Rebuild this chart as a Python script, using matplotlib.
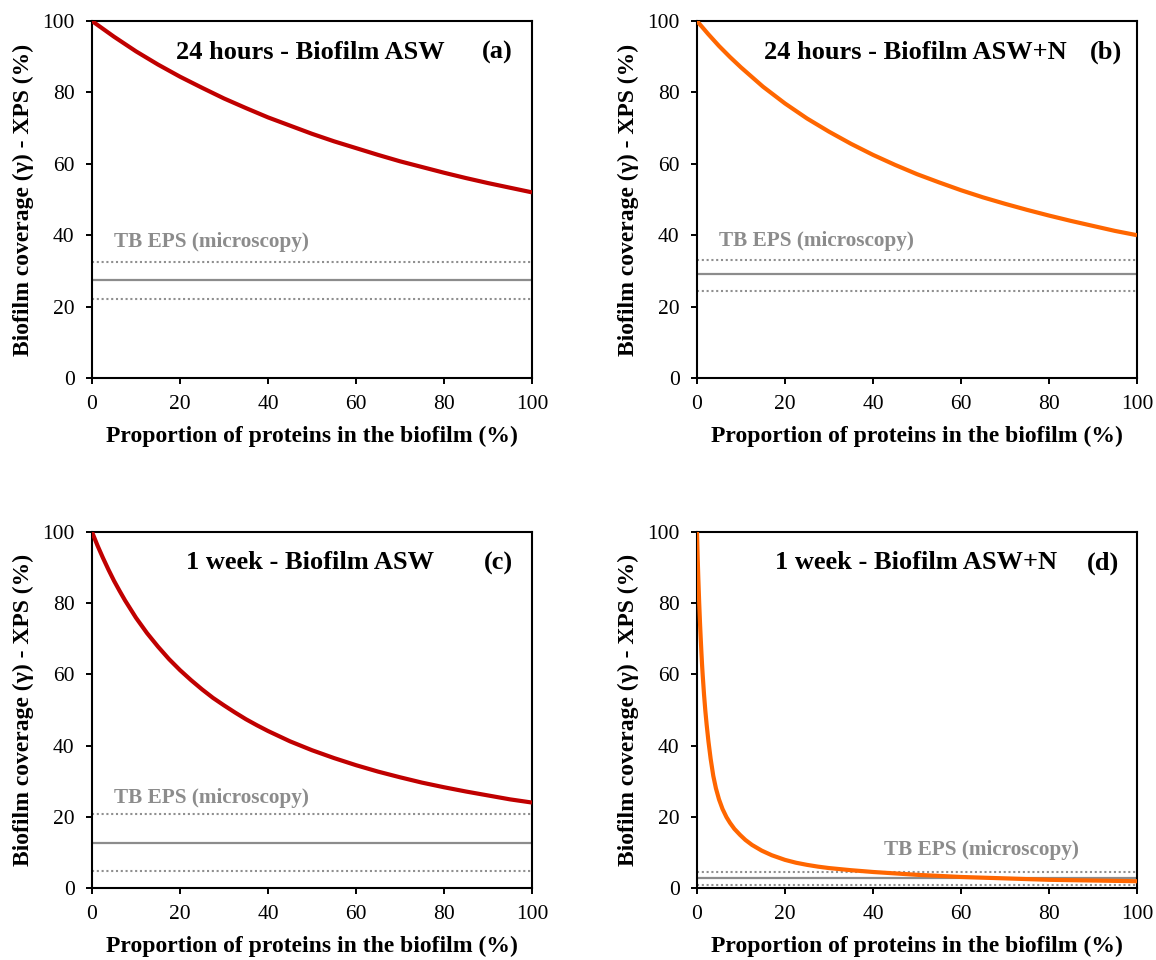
import matplotlib
matplotlib.use("Agg")
import matplotlib.pyplot as plt

plt.rcParams['font.family'] = ['Liberation Serif', 'DejaVu Serif']

# ---- data ----
x_a = [0, 5, 10, 15, 20, 25, 30, 35, 40, 45, 50, 55, 60, 65, 70, 75, 80, 85, 90, 95, 100]
y_a = [100, 95.6, 91.5, 87.8, 84.4, 81.3, 78.3, 75.6, 73.0, 70.7, 68.4, 66.3, 64.4, 62.5, 60.7, 59.1, 57.5, 56.0, 54.6, 53.3, 52.0]

x_b = [0, 2.5, 5, 7.5, 10, 15, 20, 25, 30, 35, 40, 45, 50, 55, 60, 65, 70, 75, 80, 85, 90, 95, 100]
y_b = [100, 96.4, 93.0, 89.9, 87.0, 81.6, 76.9, 72.7, 69.0, 65.6, 62.5, 59.7, 57.1, 54.8, 52.6, 50.6, 48.8, 47.1, 45.5, 44.0, 42.6, 41.2, 40.0]

x_c = [0, 1.25, 2.5, 3.75, 5, 6.25, 7.5, 10, 12.5, 15, 17.5, 20, 22.5, 25, 27.5, 30, 32.5, 35, 37.5, 40,
       45, 50, 55, 60, 65, 70, 75, 80, 85, 90, 95, 100]
y_c = [100, 96.2, 92.7, 89.4, 86.3, 83.5, 80.8, 75.9, 71.6, 67.8, 64.3, 61.2, 58.4, 55.8, 53.4, 51.3, 49.3, 47.4, 45.7, 44.1,
       41.2, 38.7, 36.5, 34.5, 32.7, 31.1, 29.6, 28.3, 27.1, 26.0, 24.9, 24.0]

x_d = [0, 0.15, 0.3, 0.5, 0.7, 0.85, 1.0, 1.15, 1.3, 1.6, 1.9, 2.2, 2.6, 3.1, 3.7, 4.3, 5.0, 5.8, 6.7, 7.5,
       8.5, 9.8, 11, 12.5, 14.7, 17, 20, 22.5, 25, 27.5, 30, 35, 40, 45, 50, 55, 60, 70, 80, 90, 100]
y_d = [100, 93.0, 87.0, 80.0, 74.0, 70.0, 66.2, 62.7, 59.7, 54.3, 49.7, 45.8, 41.2, 36.3, 31.5, 28.0, 24.9, 22.2, 19.9, 18.3,
       16.6, 14.9, 13.5, 12.1, 10.5, 9.2, 7.9, 7.1, 6.5, 6.0, 5.6, 5.0, 4.5, 4.1, 3.7, 3.4, 3.1, 2.7, 2.3, 2.1, 1.9]

# microscopy TB EPS: mean, upper, lower
eps_a = [27.4, 32.4, 22.2]
eps_b = [29.0, 33.0, 24.5]
eps_c = [12.7, 20.7, 4.7]
eps_d = [2.7, 4.5, 0.9]

titles = ["24 hours - Biofilm ASW", "24 hours - Biofilm ASW+N",
          "1 week - Biofilm ASW", "1 week - Biofilm ASW+N"]
letters = ["(a)", "(b)", "(c)", "(d)"]
xticks = [0, 20, 40, 60, 80, 100]
yticks = [0, 20, 40, 60, 80, 100]
xlabel = "Proportion of proteins in the biofilm (%)"
ylabel = "Biofilm coverage (\u03b3) - XPS (%)"
eps_label = "TB EPS (microscopy)"

RED = "#C00000"
ORANGE = "#FF6600"
GRAY = "#8C8C8C"
DOT = "#8F8F8F"

W, H = 1156, 960
fig = plt.figure(figsize=(W / 100, H / 100), dpi=100)

panels = [
    dict(x=x_a, y=y_a, eps=eps_a, color=RED, box=(92, 21, 532, 378),
         tpos=(19.0, 91.3), lpos=(88.6, 91.3), epos=(5, 38.2)),
    dict(x=x_b, y=y_b, eps=eps_b, color=ORANGE, box=(697, 21, 1137, 378),
         tpos=(15.2, 91.3), lpos=(89.3, 91.3), epos=(5, 38.5)),
    dict(x=x_c, y=y_c, eps=eps_c, color=RED, box=(92, 532, 532, 888),
         tpos=(21.4, 91.3), lpos=(89.0, 91.3), epos=(5, 25.3)),
    dict(x=x_d, y=y_d, eps=eps_d, color=ORANGE, box=(697, 532, 1137, 888),
         tpos=(17.7, 91.3), lpos=(88.6, 91.3), epos=(42.5, 10.8)),
]

for i, p in enumerate(panels):
    l, t, r, b = p['box']
    ax = fig.add_axes([l / W, 1 - b / H, (r - l) / W, (b - t) / H])
    m, up, lo = p['eps']
    ax.axhline(m, color=GRAY, lw=1.6, zorder=2)
    ax.axhline(up, color=DOT, lw=1.5, ls=(0, (1, 1.3)), zorder=2)
    ax.axhline(lo, color=DOT, lw=1.5, ls=(0, (1, 1.3)), zorder=2)
    ax.plot(p['x'], p['y'], color=p['color'], lw=3.0, zorder=3, solid_capstyle='butt')
    ax.set_xlim(0, 100)
    ax.set_ylim(0, 100)
    ax.set_xticks(xticks)
    ax.set_yticks(yticks)
    ax.tick_params(direction='out', length=4.5, width=1.4, labelsize=15.5, pad=8,
                   top=False, right=False)
    for s in ax.spines.values():
        s.set_linewidth(1.5)
    ax.set_xlabel(xlabel, fontsize=17, fontweight='bold', labelpad=8)
    ax.set_ylabel(ylabel, fontsize=17, fontweight='bold', labelpad=6)
    ax.text(p['tpos'][0], p['tpos'][1], titles[i], fontsize=19, fontweight='bold',
            ha='left', va='center')
    ax.text(p['lpos'][0], p['lpos'][1], letters[i], fontsize=19, fontweight='bold',
            ha='left', va='center')
    ax.text(p['epos'][0], p['epos'][1], eps_label, fontsize=15.3, fontweight='bold',
            color=GRAY, ha='left', va='center')

fig.savefig("out.png", dpi=100)
